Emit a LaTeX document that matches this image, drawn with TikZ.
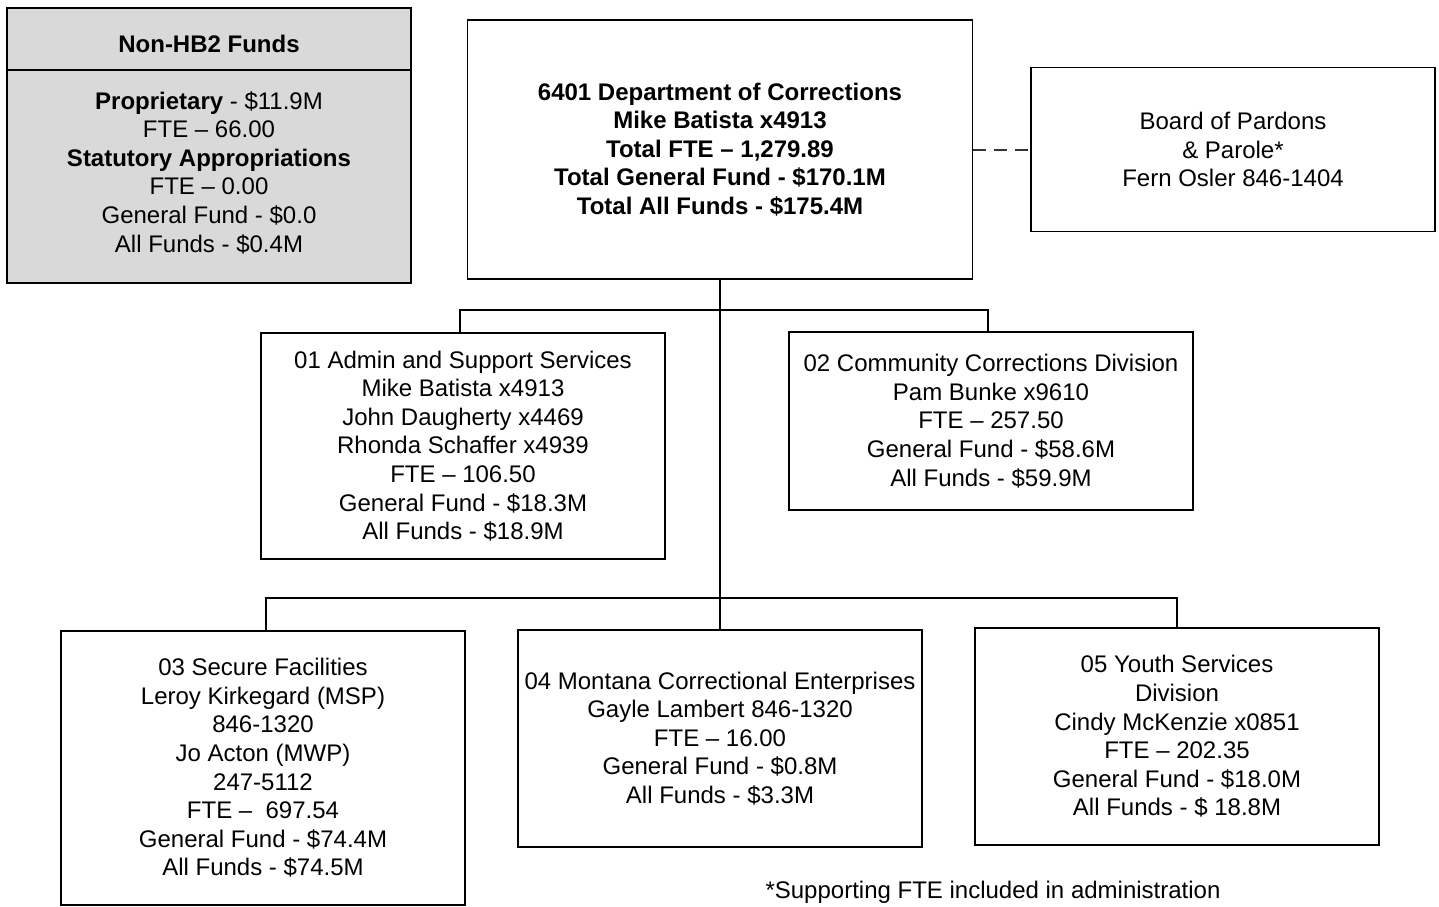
\documentclass[tikz,border=0pt]{standalone}
\usepackage{fontspec}
\setmainfont{Liberation Sans}
\begin{document}
\begin{tikzpicture}[x=0.5pt,y=-0.5pt,
  every node/.style={font=\fontsize{12pt}{14.3pt}\selectfont},
  box/.style={draw, line width=0.8pt, align=center, inner sep=0pt, minimum width=202pt},
  conn/.style={line width=0.8pt},
  gbox/.style={draw, line width=1.4pt, fill=black!15, inner sep=0pt, minimum width=202pt, minimum height=137.5pt}]
\useasboundingbox (0,0) rectangle (1439,906);
% Non-HB2
\node[gbox] (nhb) at (209,145.5) {};
\draw[line width=0.8pt] (nhb.west |- 0,70) coordinate (dl) -- (nhb.east |- 0,70) coordinate (dr);
\node[align=center] (nhbh) at (209,44) {\textbf{Non-HB2 Funds}};
\node[align=center] (nhbb) at (209,172.5) {\textbf{Proprietary} - \$11.9M\\FTE -- 66.00\\\textbf{Statutory Appropriations}\\FTE -- 0.00\\General Fund - \$0.0\\All Funds - \$0.4M};
% Main
\node[box, minimum width=252.5pt, minimum height=129.5pt] (main) at (720,149.5) {\textbf{6401 Department of Corrections}\\\textbf{Mike Batista x4913}\\\textbf{Total FTE -- 1,279.89}\\\textbf{Total General Fund - \$170.1M}\\\textbf{Total All Funds - \$175.4M}};
% Board
\node[box, minimum height=82pt] (board) at (1233,149.5) {Board of Pardons\\\& Parole*\\Fern Osler 846-1404};
\draw[line width=1pt, dash pattern=on 6.5pt off 4pt, black!80] (main.east) -- (board.west);
% Level 1
\node[box, minimum height=113pt] (b01) at (463,446) {01 Admin and Support Services\\Mike Batista x4913\\John Daugherty x4469\\Rhonda Schaffer x4939\\FTE -- 106.50\\General Fund - \$18.3M\\All Funds - \$18.9M};
\node[box, minimum height=89pt] (b02) at (991,421) {02 Community Corrections Division\\Pam Bunke x9610\\FTE -- 257.50\\General Fund - \$58.6M\\All Funds - \$59.9M};
% Level 2
\node[box, minimum height=137pt] (b03) at (263,768) {03 Secure Facilities\\Leroy Kirkegard (MSP)\\846-1320\\Jo Acton (MWP)\\247-5112\\FTE --\ \ 697.54\\General Fund - \$74.4M\\All Funds - \$74.5M};
\node[box, minimum height=108.5pt] (b04) at (720,738.5) {04 Montana Correctional Enterprises\\Gayle Lambert 846-1320\\FTE -- 16.00\\General Fund - \$0.8M\\All Funds - \$3.3M};
\node[box, minimum height=108.5pt] (b05) at (1177,736.5) {05 Youth Services\\Division\\Cindy McKenzie x0851\\FTE -- 202.35\\General Fund - \$18.0M\\All Funds - \$ 18.8M};
% Connectors
\coordinate (t1) at (720,310);
\coordinate (t2) at (720,598);
\draw[conn] (main.south) -- (b04.north);
\draw[conn] ([xshift=-1.5pt]b01.north) |- (t1) -| ([xshift=-1.5pt]b02.north);
\draw[conn] ([xshift=1.5pt]b03.north) |- (t2) -| (b05.north);
% Footnote
\node (note) at (993,892) {*Supporting FTE included in administration};
\end{tikzpicture}
\end{document}
